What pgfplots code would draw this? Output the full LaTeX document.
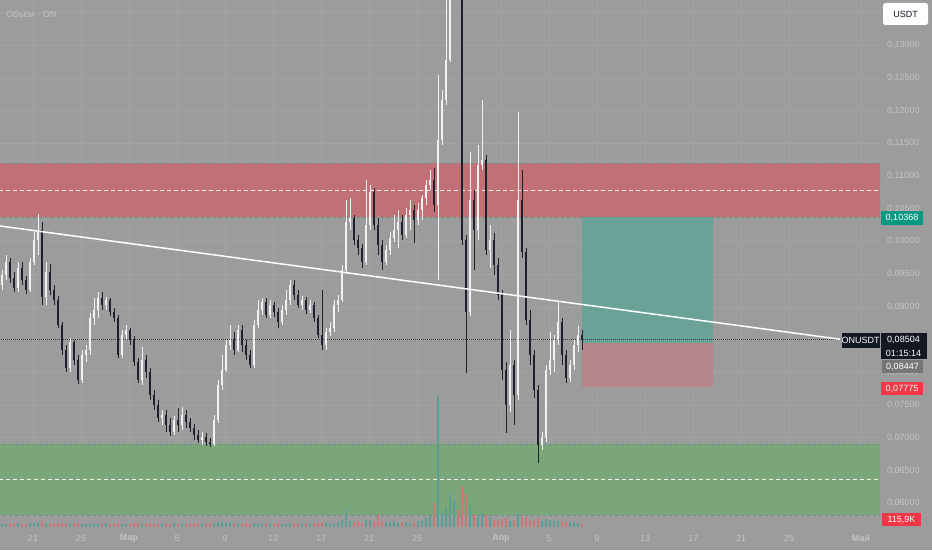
\documentclass[border=0pt]{standalone}
\usepackage{fontspec}
\setmainfont{Liberation Sans}
\usepackage{pgfplots}
\usepackage{pgfplotstable}
\pgfplotsset{compat=1.18}
\definecolor{bg}{RGB}{156,156,156}
\definecolor{gridc}{RGB}{163,163,163}
\definecolor{lbl}{RGB}{196,196,196}
\definecolor{redzone}{RGB}{193,112,117}
\definecolor{greenzone}{RGB}{122,166,122}
\definecolor{zoneedge}{RGB}{105,145,135}
\definecolor{tealbox}{RGB}{106,162,152}
\definecolor{stopbox}{RGB}{181,134,138}
\definecolor{cup}{RGB}{242,242,242}
\definecolor{cdn}{RGB}{30,34,45}
\definecolor{vup}{RGB}{92,158,148}
\definecolor{vdn}{RGB}{204,118,118}
\definecolor{tvdark}{RGB}{19,23,34}
\definecolor{tvteal}{RGB}{8,153,129}
\definecolor{tvred}{RGB}{242,54,69}
\definecolor{tvgray}{RGB}{118,118,118}

\pgfplotstableread{
t o h l c v
0 0.0933 0.0956 0.0926 0.0949 120
1 0.0949 0.0979 0.0941 0.0969 110
2 0.0969 0.0975 0.0936 0.0944 130
3 0.0944 0.0953 0.0923 0.0929 100
4 0.0929 0.0969 0.0923 0.0959 140
5 0.0959 0.0969 0.0933 0.0941 120
6 0.0941 0.0947 0.0920 0.0926 110
7 0.0926 0.0975 0.0923 0.0969 150
8 0.0969 0.1014 0.0964 0.1002 130
9 0.1002 0.1042 0.0979 0.1017 160
10 0.1017 0.1030 0.0903 0.0915 200
11 0.0915 0.0969 0.0903 0.0953 140
12 0.0953 0.0965 0.0918 0.0926 120
13 0.0926 0.0933 0.0903 0.0910 130
14 0.0910 0.0917 0.0868 0.0872 150
15 0.0872 0.0877 0.0826 0.0834 140
16 0.0834 0.0842 0.0800 0.0807 120
17 0.0807 0.0852 0.0800 0.0846 110
18 0.0846 0.0849 0.0811 0.0819 130
19 0.0819 0.0826 0.0782 0.0788 140
20 0.0788 0.0834 0.0784 0.0826 120
21 0.0826 0.0842 0.0816 0.0834 110
22 0.0834 0.0891 0.0826 0.0883 130
23 0.0883 0.0914 0.0872 0.0895 120
24 0.0895 0.0923 0.0883 0.0914 100
25 0.0914 0.0923 0.0895 0.0903 110
26 0.0903 0.0915 0.0895 0.0910 130
27 0.0910 0.0914 0.0886 0.0892 120
28 0.0892 0.0898 0.0877 0.0883 110
29 0.0883 0.0888 0.0822 0.0826 150
30 0.0826 0.0865 0.0822 0.0857 120
31 0.0857 0.0872 0.0849 0.0865 110
32 0.0865 0.0868 0.0842 0.0849 100
33 0.0849 0.0855 0.0810 0.0816 130
34 0.0816 0.0822 0.0784 0.0788 140
35 0.0788 0.0839 0.0781 0.0819 120
36 0.0819 0.0826 0.0791 0.0800 110
37 0.0800 0.0807 0.0758 0.0765 130
38 0.0765 0.0773 0.0742 0.0750 120
39 0.0750 0.0758 0.0724 0.0730 110
40 0.0730 0.0742 0.0719 0.0735 100
41 0.0735 0.0742 0.0709 0.0719 120
42 0.0719 0.0730 0.0703 0.0709 110
43 0.0709 0.0733 0.0704 0.0727 130
44 0.0727 0.0745 0.0709 0.0719 120
45 0.0719 0.0747 0.0712 0.0735 110
46 0.0735 0.0742 0.0715 0.0724 100
47 0.0724 0.0730 0.0709 0.0715 120
48 0.0715 0.0721 0.0697 0.0704 130
49 0.0704 0.0712 0.0692 0.0697 110
50 0.0697 0.0709 0.0689 0.0701 120
51 0.0701 0.0707 0.0687 0.0694 110
52 0.0694 0.0700 0.0686 0.0690 130
53 0.0690 0.0735 0.0687 0.0727 140
54 0.0727 0.0788 0.0723 0.0781 150
55 0.0781 0.0826 0.0773 0.0804 180
56 0.0804 0.0849 0.0800 0.0842 160
57 0.0842 0.0872 0.0834 0.0849 130
58 0.0849 0.0862 0.0826 0.0834 120
59 0.0834 0.0872 0.0831 0.0865 110
60 0.0865 0.0872 0.0831 0.0842 120
61 0.0842 0.0849 0.0819 0.0826 130
62 0.0826 0.0834 0.0807 0.0811 110
63 0.0811 0.0880 0.0807 0.0872 140
64 0.0872 0.0910 0.0868 0.0895 150
65 0.0895 0.0914 0.0888 0.0907 120
66 0.0907 0.0914 0.0883 0.0888 110
67 0.0888 0.0910 0.0883 0.0903 100
68 0.0903 0.0907 0.0885 0.0892 120
69 0.0892 0.0898 0.0868 0.0877 130
70 0.0877 0.0903 0.0872 0.0895 110
71 0.0895 0.0926 0.0888 0.0910 120
72 0.0910 0.0941 0.0903 0.0933 140
73 0.0933 0.0941 0.0910 0.0918 130
74 0.0918 0.0926 0.0898 0.0903 120
75 0.0903 0.0917 0.0895 0.0910 110
76 0.0910 0.0915 0.0889 0.0895 100
77 0.0895 0.0910 0.0891 0.0903 120
78 0.0903 0.0907 0.0877 0.0883 130
79 0.0883 0.0888 0.0852 0.0857 150
80 0.0857 0.0926 0.0834 0.0842 170
81 0.0842 0.0868 0.0834 0.0862 130
82 0.0862 0.0877 0.0855 0.0868 120
83 0.0868 0.0910 0.0862 0.0903 140
84 0.0903 0.0918 0.0892 0.0910 180
85 0.0910 0.0964 0.0907 0.0956 250
86 0.0956 0.1063 0.0950 0.1030 600
87 0.1030 0.1066 0.1017 0.1036 220
88 0.1036 0.1040 0.0995 0.1002 180
89 0.1002 0.1010 0.0979 0.0990 200
90 0.0990 0.0996 0.0959 0.0969 150
91 0.0969 0.1094 0.0964 0.1025 230
92 0.1025 0.1086 0.1017 0.1075 260
93 0.1075 0.1081 0.1017 0.1025 180
94 0.1025 0.1036 0.0979 0.0995 450
95 0.0995 0.1002 0.0956 0.0969 220
96 0.0969 0.0995 0.0964 0.0987 160
97 0.0987 0.1014 0.0979 0.1005 150
98 0.1005 0.1040 0.0999 0.1017 200
99 0.1017 0.1048 0.0990 0.1030 140
100 0.1030 0.1040 0.1002 0.1010 180
101 0.1010 0.1051 0.1005 0.1040 160
102 0.1040 0.1063 0.1017 0.1048 150
103 0.1048 0.1056 0.0998 0.1033 170
104 0.1033 0.1059 0.1025 0.1048 200
105 0.1048 0.1071 0.1033 0.1066 230
106 0.1066 0.1094 0.1056 0.1086 300
107 0.1086 0.1109 0.1079 0.1094 380
108 0.1094 0.1112 0.1045 0.1056 850
109 0.1056 0.1254 0.0941 0.1155 4600
110 0.1155 0.1231 0.1147 0.1216 500
111 0.1216 0.1415 0.1208 0.1277 700
112 0.1277 0.1461 0.1274 0.1430 1150
113 0.1430 0.1506 0.1415 0.1476 900
114 0.1476 0.1522 0.1399 0.1415 600
115 0.1415 0.1430 0.0995 0.1002 1450
116 0.1002 0.1010 0.0799 0.0892 1150
117 0.0892 0.1137 0.0886 0.1063 750
118 0.1063 0.1079 0.0956 0.1017 450
119 0.1017 0.1147 0.1002 0.1117 350
120 0.1117 0.1216 0.1109 0.1124 500
121 0.1124 0.1132 0.0979 0.0987 420
122 0.0987 0.1025 0.0959 0.1002 300
123 0.1002 0.1013 0.0949 0.0964 250
124 0.0964 0.0975 0.0910 0.0918 230
125 0.0918 0.0926 0.0788 0.0804 280
126 0.0804 0.0816 0.0707 0.0750 300
127 0.0750 0.0865 0.0739 0.0811 220
128 0.0811 0.0819 0.0719 0.0765 250
129 0.0765 0.1198 0.0758 0.1063 450
130 0.1063 0.1109 0.0975 0.0984 380
131 0.0984 0.0990 0.0872 0.0880 300
132 0.0880 0.0895 0.0811 0.0826 260
133 0.0826 0.0834 0.0761 0.0773 250
134 0.0773 0.0781 0.0661 0.0689 300
135 0.0689 0.0709 0.0681 0.0700 220
136 0.0700 0.0811 0.0694 0.0804 280
137 0.0804 0.0862 0.0796 0.0819 260
138 0.0819 0.0857 0.0800 0.0849 200
139 0.0849 0.0907 0.0842 0.0877 230
140 0.0877 0.0883 0.0811 0.0826 200
141 0.0826 0.0834 0.0784 0.0791 180
142 0.0791 0.0819 0.0785 0.0811 150
143 0.0811 0.0849 0.0804 0.0842 160
144 0.0842 0.0871 0.0831 0.0857 140
145 0.0857 0.0865 0.0834 0.0850 116
}\candles

\newcommand{\f}{\fontsize{9}{10}\selectfont}
% one volume unit (thousand) in price units of the axis, halved for error-bar drawing
\newcommand{\vk}{0.0000021827}

\begin{document}
\begin{tikzpicture}[x=1pt,y=1pt]
\useasboundingbox (0,0) rectangle (932,550);
\fill[bg] (0,0) rectangle (932,550);
\begin{axis}[
  at={(0pt,23pt)}, anchor=south west,
  width=880pt, height=527pt, scale only axis,
  xmin=-10.75, xmax=62.58, ymin=0.05636, ymax=0.13688,
  axis line style={draw=none}, tick style={draw=none},
  xtick={-8,-4,0,4,8,12,16,20,24,31,35,39,43,47,51,55,61},
  xticklabels={21,25,\textbf{Мар},5,9,13,17,21,25,\textbf{Апр},5,9,13,17,21,25,\textbf{Май}},
  ytick={0.06,0.065,0.07,0.075,0.08,0.09,0.095,0.1,0.105,0.11,0.115,0.12,0.125,0.13},
  extra y ticks={0.085,0.135}, extra y tick labels={},
  extra y tick style={grid=major},
  scaled y ticks=false,
  yticklabel pos=right,
  /pgf/number format/assume math mode=true,
  yticklabel style={/pgf/number format/fixed, /pgf/number format/fixed zerofill,
    /pgf/number format/precision=5, /pgf/number format/use comma,
    anchor=west, inner sep=0pt, xshift=7pt, text=lbl, font=\f},
  xticklabel style={text=lbl, font=\f, anchor=center, inner sep=0pt, yshift=-11pt},
  grid=major, major grid style={gridc, line width=0.5pt},
]
% zones
\addplot[fill=redzone, draw=none, forget plot] coordinates {(-12,0.10368) (64,0.10368) (64,0.11200) (-12,0.11200)} -- cycle;
\addplot[fill=greenzone, draw=none, forget plot] coordinates {(-12,0.05819) (64,0.05819) (64,0.06904) (-12,0.06904)} -- cycle;
\addplot[zoneedge, dashed, line width=0.6pt, forget plot] coordinates {(-12,0.11200) (64,0.11200)};
\addplot[zoneedge, dashed, line width=0.6pt, forget plot] coordinates {(-12,0.10368) (64,0.10368)};
\addplot[zoneedge, dashed, line width=0.6pt, forget plot] coordinates {(-12,0.06904) (64,0.06904)};
\addplot[zoneedge, dashed, line width=0.6pt, forget plot] coordinates {(-12,0.05819) (64,0.05819)};
\addplot[white!92!gray, dash pattern=on 4pt off 3pt, line width=0.8pt, forget plot] coordinates {(-12,0.10784) (64,0.10784)};
\addplot[white!92!gray, dash pattern=on 4pt off 3pt, line width=0.8pt, forget plot] coordinates {(-12,0.06362) (64,0.06362)};
% position boxes
\addplot[fill=tealbox, draw=none, forget plot] coordinates {(37.75,0.08447) (48.67,0.08447) (48.67,0.10368) (37.75,0.10368)} -- cycle;
\addplot[fill=stopbox, draw=none, forget plot] coordinates {(37.75,0.07775) (48.67,0.07775) (48.67,0.08447) (37.75,0.08447)} -- cycle;
% current price line
\addplot[tvdark!85, dash pattern=on 1pt off 1pt, line width=0.5pt, forget plot] coordinates {(-12,0.08504) (64,0.08504)};
% volume (drawn from the bottom of the pane)
\addplot[draw=none, mark=none, forget plot,
  restrict expr to domain={\thisrow{c}-\thisrow{o}}{0:1},
  error bars/.cd, y dir=both, y explicit, error mark=none,
  error bar style={draw=vup, solid, line width=2.4pt}]
  table[x expr=\thisrow{t}/3-10.5833, y expr=0.05636+\thisrow{v}*\vk, y error expr=\thisrow{v}*\vk] {\candles};
\addplot[draw=none, mark=none, forget plot,
  restrict expr to domain={\thisrow{c}-\thisrow{o}}{-1:-0.00000001},
  error bars/.cd, y dir=both, y explicit, error mark=none,
  error bar style={draw=vdn, solid, line width=2.4pt}]
  table[x expr=\thisrow{t}/3-10.5833, y expr=0.05636+\thisrow{v}*\vk, y error expr=\thisrow{v}*\vk] {\candles};
% wicks
\addplot[draw=none, mark=none, forget plot,
  restrict expr to domain={\thisrow{c}-\thisrow{o}}{0:1},
  error bars/.cd, y dir=both, y explicit, error mark=none,
  error bar style={draw=cup, solid, line width=0.8pt}]
  table[x expr=\thisrow{t}/3-10.5833, y expr=(\thisrow{h}+\thisrow{l})/2, y error expr=(\thisrow{h}-\thisrow{l})/2] {\candles};
\addplot[draw=none, mark=none, forget plot,
  restrict expr to domain={\thisrow{c}-\thisrow{o}}{-1:-0.00000001},
  error bars/.cd, y dir=both, y explicit, error mark=none,
  error bar style={draw=cdn, solid, line width=0.8pt}]
  table[x expr=\thisrow{t}/3-10.5833, y expr=(\thisrow{h}+\thisrow{l})/2, y error expr=(\thisrow{h}-\thisrow{l})/2] {\candles};
% bodies
\addplot[draw=none, mark=none, forget plot,
  restrict expr to domain={\thisrow{c}-\thisrow{o}}{0:1},
  error bars/.cd, y dir=both, y explicit, error mark=none,
  error bar style={draw=cup, solid, line width=2.4pt}]
  table[x expr=\thisrow{t}/3-10.5833, y expr=(\thisrow{o}+\thisrow{c})/2, y error expr=(\thisrow{c}-\thisrow{o})/2] {\candles};
\addplot[draw=none, mark=none, forget plot,
  restrict expr to domain={\thisrow{c}-\thisrow{o}}{-1:-0.00000001},
  error bars/.cd, y dir=both, y explicit, error mark=none,
  error bar style={draw=cdn, solid, line width=2.4pt}]
  table[x expr=\thisrow{t}/3-10.5833, y expr=(\thisrow{o}+\thisrow{c})/2, y error expr=(\thisrow{o}-\thisrow{c})/2] {\candles};
% trend line
\addplot[white, line width=1.5pt, forget plot] coordinates {(-10.75,0.10235) (59.25,0.08505)};
\end{axis}
% labels
\node[anchor=west, text=lbl, font=\f, inner sep=0pt] at (6,536) {Объём · ON};
\node[fill=white, rounded corners=2.5pt, minimum width=45pt, minimum height=22pt, inner sep=0pt, text=tvdark, font=\f] at (905.5,536) {USDT};
\node[fill=tvteal, text=white, minimum width=42pt, minimum height=14pt, inner sep=0pt, font=\f] at (902,332) {0,10368};
\node[fill=tvdark, text=white, minimum width=37pt, minimum height=15pt, inner sep=0pt, font=\f] at (860.5,210) {ONUSDT};
\fill[tvdark] (881,191) rectangle (927,217);
\node[text=white, inner sep=0pt, font=\f] at (903.5,210) {0,08504};
\node[text=white, inner sep=0pt, font=\f] at (903.5,197) {01:15:14};
\node[fill=tvgray, text=white, minimum width=41pt, minimum height=13pt, inner sep=0pt, font=\f] at (902.5,183.5) {0,08447};
\node[fill=tvred, text=white, minimum width=42pt, minimum height=13pt, inner sep=0pt, font=\f] at (902,161.5) {0,07775};
\node[fill=tvred, text=white, minimum width=39pt, minimum height=13pt, inner sep=0pt, font=\f] at (901.5,30.5) {115,9K};
\end{tikzpicture}
\end{document}
